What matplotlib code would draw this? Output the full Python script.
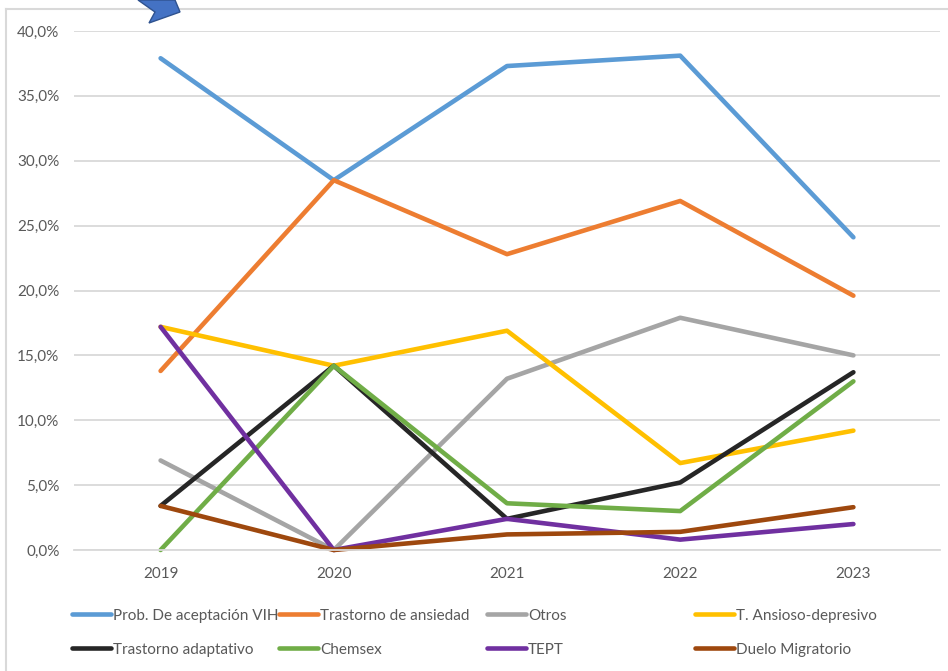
#!/usr/bin/env python3
"""Line chart of yearly shares by diagnosis."""

import matplotlib
matplotlib.use("Agg")
import matplotlib.pyplot as plt
from matplotlib.patches import Polygon

years = ["2019", "2020", "2021", "2022", "2023"]
vih = [37.9, 28.5, 37.3, 38.1, 24.1]
ansiedad = [13.8, 28.5, 22.8, 26.9, 19.6]
otros = [6.9, 0.0, 13.2, 17.9, 15.0]
ansioso = [17.2, 14.2, 16.9, 6.7, 9.2]
adaptativo = [3.4, 14.2, 2.4, 5.2, 13.7]
chemsex = [0.0, 14.2, 3.6, 3.0, 13.0]
tept = [17.2, 0.0, 2.4, 0.8, 2.0]
duelo = [3.4, 0.0, 1.2, 1.4, 3.3]
yticks = [0, 5, 10, 15, 20, 25, 30, 35, 40]

series = [
    ("Prob. De aceptación VIH", vih, "#5B9BD5"),
    ("Trastorno de ansiedad", ansiedad, "#ED7D31"),
    ("Otros", otros, "#A5A5A5"),
    ("T. Ansioso-depresivo", ansioso, "#FFC000"),
    ("Trastorno adaptativo", adaptativo, "#262626"),
    ("Chemsex", chemsex, "#70AD47"),
    ("TEPT", tept, "#7030A0"),
    ("Duelo Migratorio", duelo, "#9E480E"),
]
# legend handle start (px) for each column
legend_x = [72, 279, 487, 695]

plt.rcParams["font.family"] = ["Lato", "DejaVu Sans"]
fig = plt.figure(figsize=(9.48, 6.71), dpi=100)
W, H = 948, 671
ax = fig.add_axes([74 / W, 1 - 550 / H, (940 - 74) / W, (550 - 31) / H])

for name, vals, color in series:
    ax.plot(range(len(years)), vals, color=color, lw=3.3, solid_capstyle="round",
            clip_on=False)

ax.set_xlim(-0.5, 4.5)
ax.set_ylim(0, 40)
ax.set_xticks(range(len(years)), years)
ax.set_yticks(yticks, [f"{v:.1f}%".replace(".", ",") for v in yticks])
ax.tick_params(length=0, labelsize=11, labelcolor="#595959", pad=10.5)
ax.tick_params(axis="x", pad=12.5)
ax.grid(axis="y", color="#D9D9D9", lw=1.3)
ax.set_axisbelow(True)
for side in ["top", "right", "left"]:
    ax.spines[side].set_visible(False)
ax.spines["bottom"].set_color("#D9D9D9")
ax.spines["bottom"].set_linewidth(1.3)

# legend placed by hand, two rows as in the original
for i, (name, vals, color) in enumerate(series):
    x = legend_x[i % 4]
    y = 1 - (614 if i < 4 else 648) / H
    fig.add_artist(plt.Line2D([x / W, (x + 39) / W], [y, y], color=color, lw=3.3,
                              solid_capstyle="round"))
    fig.text((x + 41) / W, y - 6 / H, name, fontsize=11, color="#595959", va="baseline")

# frame of the picture and the arrow cut off at the top
fig.add_artist(plt.Line2D([5.5 / W, 5.5 / W], [0, 1 - 9 / H], color="#D9D9D9", lw=1.5))
fig.add_artist(plt.Line2D([5.5 / W, 948 / W], [1 - 9 / H, 1 - 9 / H], color="#D9D9D9", lw=1.5))
arrow = [(138, 0), (155, 12), (149, 23), (180, 12), (175, 0)]
fig.add_artist(Polygon([(x / W, 1 - y / H) for x, y in arrow], closed=True,
                       facecolor="#4472C4", edgecolor="#2F528F", lw=1,
                       transform=fig.transFigure, zorder=10))

fig.savefig("out.png", dpi=100)
